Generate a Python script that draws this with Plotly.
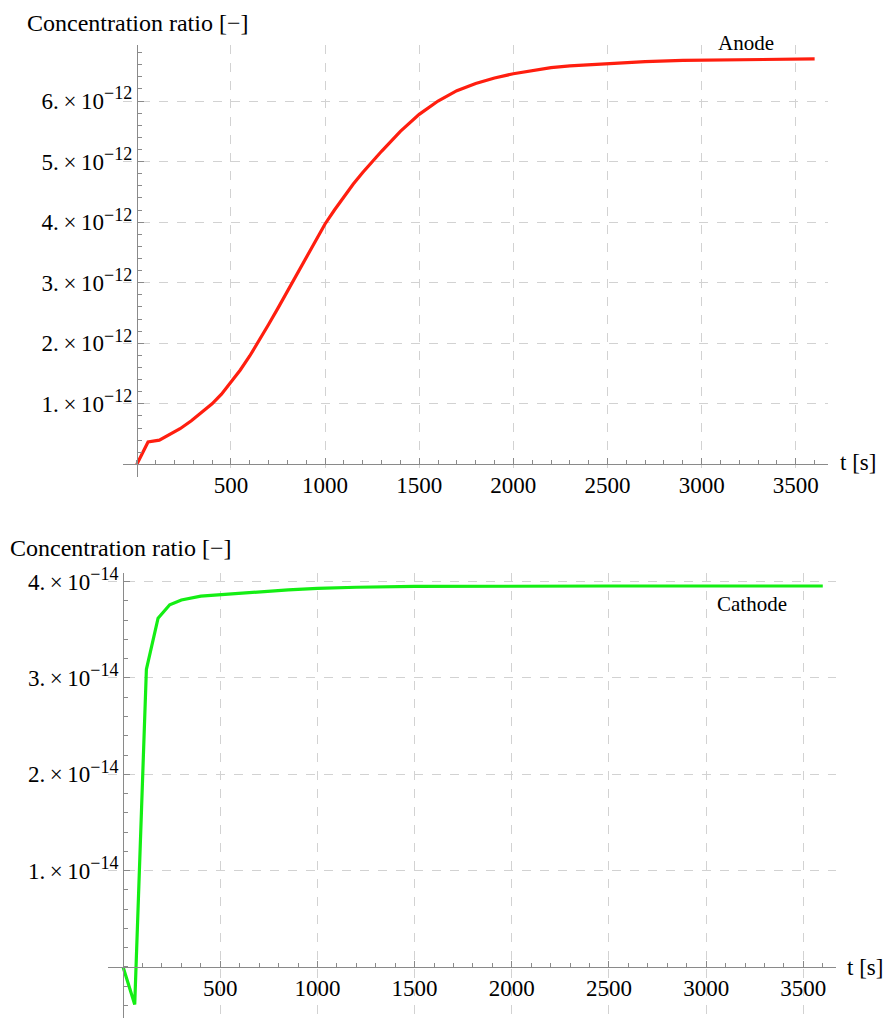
import plotly.graph_objects as go

# ---------------- data ----------------
t_anode = [0, 60, 120, 175, 230, 290, 345, 400, 450, 500, 550, 600, 650, 700,
           750, 800, 850, 900, 950, 1000, 1050, 1100, 1150, 1200, 1300, 1400,
           1500, 1600, 1700, 1800, 1900, 2000, 2100, 2200, 2300, 2400, 2500,
           2700, 2900, 3200, 3600]
c_anode_e12 = [0.0, 0.37, 0.40, 0.49, 0.59, 0.72, 0.86, 1.00, 1.16, 1.35, 1.56,
               1.79, 2.04, 2.31, 2.58, 2.86, 3.14, 3.43, 3.71, 3.97, 4.20, 4.42,
               4.63, 4.82, 5.17, 5.50, 5.78, 6.00, 6.17, 6.29, 6.38, 6.45, 6.50,
               6.55, 6.58, 6.60, 6.62, 6.65, 6.67, 6.685, 6.695]

t_cathode = [0, 60, 120, 180, 240, 300, 400, 500, 600, 700, 850, 1000, 1200,
             1500, 2000, 2500, 3000, 3600]
c_cathode_e14 = [0.0, -0.39, 3.09, 3.62, 3.76, 3.81, 3.85, 3.865, 3.88, 3.895,
                 3.915, 3.93, 3.942, 3.95, 3.955, 3.955, 3.955, 3.955]

x_tickvals = [500, 1000, 1500, 2000, 2500, 3000, 3500]
x_ticktext = ["500", "1000", "1500", "2000", "2500", "3000", "3500"]
y1_tickvals_e12 = [1, 2, 3, 4, 5, 6]
y2_tickvals_e14 = [1, 2, 3, 4]

c_anode = [v * 1e-12 for v in c_anode_e12]
c_cathode = [v * 1e-14 for v in c_cathode_e14]

# ---------------- layout geometry ----------------
W, H = 889, 1021
FONT = "Liberation Serif, Times New Roman, serif"
AXC = "#8a8a8a"
GRIDC = "#d2d2d2"

x1_range = [-73, 3671]
y1_range = [-0.2e-12, 6.93e-12]
x2_range = [-76, 3668]
y2_range = [-0.53e-14, 4.09e-14]

x1_dom = [123 / W, 828 / W]
y1_dom = [1 - 471.7 / H, 1 - 36 / H]
x2_dom = [108.3 / W, 836 / W]
y2_dom = [1 - 1018 / H, 1 - 569 / H]


def zero_pos(rng, dom):
    return dom[0] + (0 - rng[0]) / (rng[1] - rng[0]) * (dom[1] - dom[0])


def sci_text(v, e):
    return (f"{v}.\u2009×\u200910"
            f"<sup><span style='font-size:18px'>−{e}</span></sup>")


fig = go.Figure()
fig.add_trace(go.Scatter(x=t_anode, y=c_anode, mode="lines",
                         line=dict(color="rgb(255,30,15)", width=3.2),
                         xaxis="x", yaxis="y", showlegend=False))
fig.add_trace(go.Scatter(x=t_cathode, y=c_cathode, mode="lines",
                         line=dict(color="rgb(20,238,20)", width=3.2),
                         xaxis="x2", yaxis="y2", showlegend=False))

common_x = dict(
    tickmode="array", tickvals=x_tickvals, ticktext=x_ticktext,
    ticks="inside", ticklen=6, tickcolor=AXC, tickwidth=1,
    showline=True, linecolor=AXC, linewidth=1,
    showgrid=True, gridcolor=GRIDC, griddash="dash", gridwidth=1,
    zeroline=False, anchor="free", side="bottom",
    tickfont=dict(family=FONT, size=23, color="black"),
    minor=dict(tickmode="linear", tick0=0, dtick=100, ticks="inside",
               ticklen=4, tickcolor=AXC, showgrid=False),
)
common_y = dict(
    tickmode="array",
    ticks="inside", ticklen=6, tickcolor=AXC, tickwidth=1,
    showline=True, linecolor=AXC, linewidth=1,
    showgrid=True, gridcolor=GRIDC, griddash="dash", gridwidth=1,
    zeroline=False, anchor="free", side="left",
    tickfont=dict(family=FONT, size=23, color="black"),
)

fig.update_layout(
    width=W, height=H, autosize=False,
    margin=dict(l=0, r=0, t=0, b=0),
    paper_bgcolor="white", plot_bgcolor="white",
    xaxis=dict(common_x, range=x1_range, domain=x1_dom,
               position=zero_pos(y1_range, y1_dom)),
    yaxis=dict(common_y, range=y1_range, domain=y1_dom,
               position=zero_pos(x1_range, x1_dom),
               tickvals=[v * 1e-12 for v in y1_tickvals_e12],
               ticktext=[sci_text(v, 12) for v in y1_tickvals_e12],
               minor=dict(tickmode="linear", tick0=0, dtick=0.2e-12,
                          ticks="inside", ticklen=4, tickcolor=AXC,
                          showgrid=False)),
    xaxis2=dict(common_x, range=x2_range, domain=x2_dom,
                position=zero_pos(y2_range, y2_dom)),
    yaxis2=dict(common_y, range=y2_range, domain=y2_dom,
                position=zero_pos(x2_range, x2_dom),
                tickvals=[v * 1e-14 for v in y2_tickvals_e14],
                ticktext=[sci_text(v, 14) for v in y2_tickvals_e14],
                minor=dict(tickmode="linear", tick0=0, dtick=0.2e-14,
                           ticks="inside", ticklen=4, tickcolor=AXC,
                           showgrid=False)),
)


def label(text, px, py, xanchor="left", size=24):
    fig.add_annotation(text=text, xref="paper", yref="paper",
                       x=px / W, y=1 - py / H, xanchor=xanchor,
                       yanchor="middle", showarrow=False,
                       font=dict(family=FONT, size=size, color="black"))


label("Concentration ratio [−]", 25, 14)
label("Concentration ratio [−]", 8, 544)
label("t [s]", 838, 458, size=23)
label("t [s]", 845, 967, size=23)
label("Anode", 746, 34, xanchor="center", size=21)
label("Cathode", 752, 600, xanchor="center", size=21)

fig.write_html("out.html")
